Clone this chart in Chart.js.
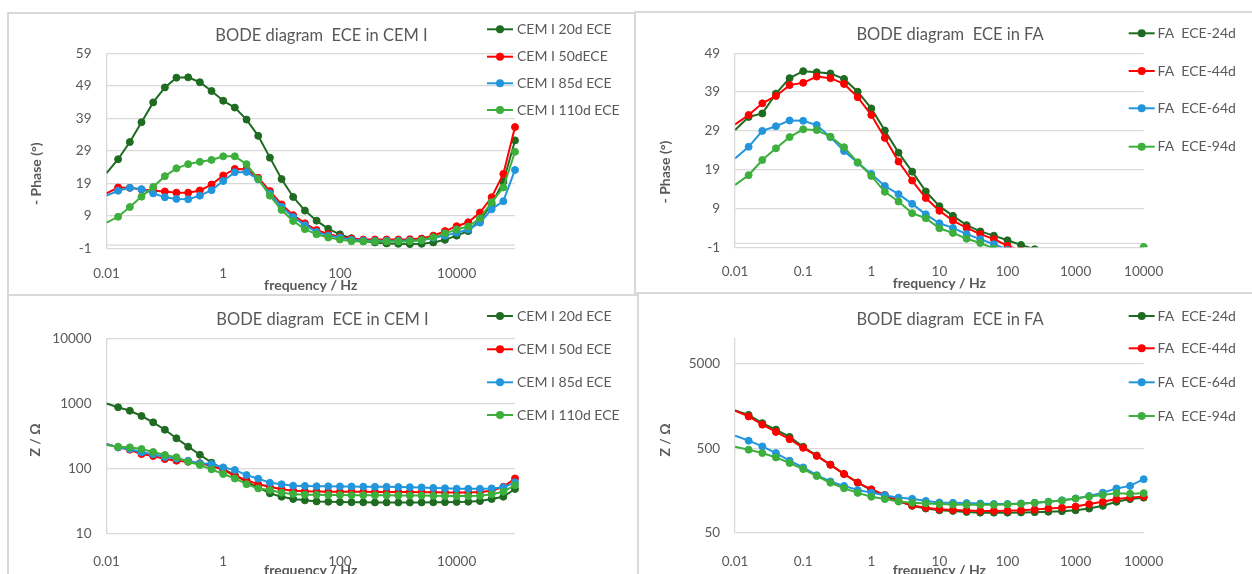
<!DOCTYPE html>
<html lang="en">
<head>
  <meta charset="UTF-8">
  <title>BODE diagram ECE</title>
  <script src="https://cdn.jsdelivr.net/npm/chart.js"></script>
  <style>
    html, body {
      margin: 0;
      overflow: hidden;
      background: #fff;
    }
    body {
      position: relative;
      width: 1252px;
      height: 574px;
    }
    .panel {
      position: absolute;
      box-sizing: border-box;
      border: 2px solid #d9d9d9;
    }
    canvas {
      position: absolute;
    }
  </style>
</head>
<body>
  <div class="panel" style="left:7px; top:12px; width:629px; height:284px"></div>
  <div class="panel" style="left:634px; top:11px; width:640px; height:283px"></div>
  <div class="panel" style="left:7px; top:294px; width:632px; height:300px"></div>
  <div class="panel" style="left:637px; top:292px; width:640px; height:300px"></div>

  <canvas id="phaseCem" width="627" height="282" style="left:8px; top:13px"></canvas>
  <canvas id="phaseFa" width="626" height="281" style="left:637px; top:12px"></canvas>
  <canvas id="zCem" width="629" height="290" style="left:8px; top:296px"></canvas>
  <canvas id="zFa" width="626" height="290" style="left:637px; top:294px"></canvas>

  <script>
    // measurement frequencies, 5 per decade (Hz)
    const FREQ = [0.01, 0.0158, 0.0251, 0.0398, 0.0631, 0.1, 0.158, 0.251, 0.398, 0.631,
                  1, 1.58, 2.51, 3.98, 6.31, 10, 15.8, 25.1, 39.8, 63.1,
                  100, 158, 251, 398, 631, 1000, 1580, 2510, 3980, 6310,
                  10000, 15800, 25100, 39800, 63100, 100000];

    // - phase (deg), CEM I
    const PH_CEM_20 = [22.1, 26.4, 31.7, 37.8, 43.9, 48.5, 51.5, 51.6, 50.1, 47.4, 44.4, 42.3, 38.6, 33.6,
                       26.9, 20.3, 14.8, 10.6, 7.5, 5.0, 3.3, 2.1, 1.2, 0.8, 0.5, 0.4, 0.3, 0.4,
                       0.8, 1.6, 2.9, 4.3, 7.7, 12.6, 19.5, 32.2];
    const PH_CEM_50 = [15.9, 17.7, 17.6, 17.1, 16.7, 16.5, 16.1, 16.1, 16.8, 18.6, 21.4, 23.4, 23.3, 20.7,
                       16.6, 12.5, 9.2, 6.7, 4.6, 3.4, 2.5, 2.0, 1.7, 1.7, 1.7, 1.7, 1.8, 2.0,
                       2.9, 4.3, 5.8, 7.0, 10.0, 14.7, 21.9, 36.3];
    const PH_CEM_85 = [15.2, 16.7, 17.6, 17.2, 15.9, 14.7, 14.2, 14.1, 15.2, 16.9, 19.7, 22.4, 22.5, 20.2,
                       15.9, 11.8, 8.6, 6.1, 4.0, 2.9, 2.3, 1.6, 1.4, 1.3, 1.3, 1.3, 1.4, 1.5,
                       2.2, 2.9, 3.8, 4.8, 6.9, 11.0, 13.5, 23.1];
    const PH_CEM_110 = [6.9, 8.7, 11.7, 14.9, 17.9, 21.2, 23.6, 24.9, 25.6, 26.2, 27.3, 27.3, 24.9, 20.3,
                        15.2, 10.8, 7.4, 4.9, 3.3, 2.3, 1.7, 1.2, 1.1, 1.1, 1.1, 1.1, 1.2, 1.5,
                        2.4, 3.6, 4.8, 5.7, 8.2, 13.2, 17.7, 28.7];

    // - phase (deg), FA (nothing drawn below -1)
    const PH_FA_24 = [29.2, 32.6, 33.5, 38.6, 42.6, 44.4, 44.1, 43.8, 42.4, 39.1, 34.8, 29.1, 23.4, 18.5,
                      13.4, 9.6, 7.1, 4.7, 3.1, 2.0, 0.8, -0.4, -1.5, null, null, null, null, null, null, null, null];
    const PH_FA_44 = [30.7, 33.1, 36.1, 38.0, 40.8, 41.4, 43.0, 42.6, 41.1, 37.7, 33.1, 27.2, 21.1, 16.2,
                      11.7, 8.4, 5.9, 4.0, 2.4, 1.1, -0.6, -1.9, null, null, null, null, null, null, null, null, null];
    const PH_FA_64 = [21.9, 24.9, 29.0, 30.2, 31.7, 31.6, 30.5, 27.4, 23.8, 20.8, 17.9, 14.8, 12.7, 10.2,
                      7.5, 5.2, 4.0, 2.4, 1.1, -0.2, -1.6, null, null, null, null, null, null, null, null, null, null];
    const PH_FA_94 = [15.1, 17.6, 21.5, 24.5, 27.4, 29.4, 29.2, 27.5, 24.8, 20.9, 17.4, 13.3, 10.8, 7.8,
                      6.5, 3.9, 2.7, 1.2, 0.1, -1.3, null, null, null, null, null, null, null, null, null, null, -0.9];

    // |Z| (ohm), CEM I
    const Z_CEM_20 = [1000, 875, 776, 644, 515, 397, 293, 218, 164, 124, 100, 80, 63, 52,
                      42, 37.3, 34.4, 32.8, 31.6, 31.2, 30.9, 30.7, 30.6, 30.5, 30.5, 30.4, 30.4, 30.5,
                      30.6, 30.8, 31.0, 31.2, 32.0, 34.4, 37.3, 49];
    const Z_CEM_50 = [240, 213, 196, 168, 157, 141, 133, 128, 122, 110, 96, 78, 67, 58,
                      53, 48.4, 46.1, 45.1, 44.8, 44.6, 44.5, 44.4, 44.3, 44.2, 44.1, 44.0, 43.9, 43.8,
                      43.6, 43.4, 43.2, 43.1, 44, 46, 53, 71];
    const Z_CEM_85 = [240, 213, 201, 179, 167, 151, 143, 133, 121, 118, 105, 96, 80, 70.5,
                      61, 57.8, 55, 54.5, 54, 53.8, 53.6, 53.4, 53.2, 53, 52.8, 52.5, 52.2, 51.8,
                      50.9, 50.2, 49.6, 49.3, 49.3, 50, 52, 62];
    const Z_CEM_110 = [231, 218, 213, 201, 181, 163, 150, 128, 114, 98, 83, 71, 58, 50,
                       47.2, 43, 41, 40, 39.8, 39.6, 39.5, 39.4, 39.3, 39.2, 39.1, 39.0, 38.9, 38.8,
                       38.6, 38.4, 38.2, 38.1, 38.5, 40.6, 44.5, 56];

    // |Z| (ohm), FA
    const Z_FA_24 = [1400, 1240, 990, 830, 680, 520, 410, 320, 248, 196, 160, 138, 118, 104,
                     96.5, 92, 90.6, 88, 86.4, 86.4, 86.4, 86.8, 87.5, 88.5, 90, 92, 96.5, 104,
                     116, 125, 130];
    const Z_FA_44 = [1390, 1190, 950, 780, 640, 505, 405, 318, 247, 196, 163, 140, 119, 105,
                     99, 95, 93, 91.5, 90.6, 90.6, 91, 92, 94, 97, 99, 102, 109, 116,
                     125, 130, 134];
    const Z_FA_64 = [703, 614, 525, 438, 356, 296, 240, 202, 179, 160, 149, 139, 130, 126,
                     119, 114, 113, 112, 111, 109.5, 109.5, 111, 113, 116, 121, 127, 136, 149,
                     167, 179, 215];
    const Z_FA_94 = [521, 480, 438, 389, 334, 283, 234, 195, 168, 148, 133, 125, 117, 113,
                     111, 109, 107.5, 107, 107, 107, 108, 110, 113, 116, 120, 127, 134, 140,
                     147, 145, 147];

    const CEM_LABELS = ['CEM I 20d ECE', 'CEM I 50dECE', 'CEM I 85d ECE', 'CEM I 110d ECE'];
    const CEM_Z_LABELS = ['CEM I 20d ECE', 'CEM I 50d ECE', 'CEM I 85d ECE', 'CEM I 110d ECE'];
    const FA_LABELS = ['FA  ECE-24d', 'FA  ECE-44d', 'FA  ECE-64d', 'FA  ECE-94d'];

    const X_TICKS_CEM = [0.01, 1, 100, 10000];
    const X_TICKS_FA = [0.01, 0.1, 1, 10, 100, 1000, 10000];
    const PH_TICKS_CEM = [-1, 9, 19, 29, 39, 49, 59];
    const PH_TICKS_FA = [-1, 9, 19, 29, 39, 49];
    const Z_TICKS_CEM = [10, 100, 1000, 10000];
    const Z_TICKS_FA = [50, 500, 5000];

    const COLORS = ['#1e6b21', '#ff0000', '#2196dc', '#3daf3d'];
    const TEXT = '#595959';
    const GRID = '#d9d9d9';

    Chart.defaults.font.family = 'Lato';

    // title, rotated y title, side legend and the x axis line at 0
    const decor = {
      id: 'decor',
      beforeDatasetsDraw(chart, args, o) {
        if (!o.zeroLine) return;
        const ctx = chart.ctx, a = chart.chartArea;
        const y = chart.scales.y.getPixelForValue(0);
        ctx.save();
        ctx.strokeStyle = GRID;
        ctx.lineWidth = 1.3;
        ctx.beginPath();
        ctx.moveTo(a.left, y);
        ctx.lineTo(a.right, y);
        ctx.stroke();
        ctx.restore();
      },
      afterDraw(chart, args, o) {
        const ctx = chart.ctx;
        ctx.save();
        ctx.fillStyle = TEXT;
        ctx.textAlign = 'center';
        ctx.textBaseline = 'middle';
        ctx.font = '16.5px Lato';
        ctx.fillText(o.title, chart.width / 2, o.titleY);

        ctx.save();
        ctx.translate(o.yTitleAt[0], o.yTitleAt[1]);
        ctx.rotate(-Math.PI / 2);
        ctx.font = 'bold 14px Lato';
        ctx.fillText(o.yTitle, 0, 0);
        ctx.restore();

        ctx.font = '14px Lato';
        ctx.textAlign = 'left';
        chart.data.datasets.forEach((ds, i) => {
          const y = o.rows[i];
          ctx.strokeStyle = ds.borderColor;
          ctx.lineWidth = 2;
          ctx.beginPath();
          ctx.moveTo(o.markX - 13, y);
          ctx.lineTo(o.markX + 13, y);
          ctx.stroke();
          ctx.fillStyle = ds.borderColor;
          ctx.beginPath();
          ctx.arc(o.markX, y, 4, 0, Math.PI * 2);
          ctx.fill();
          ctx.fillStyle = TEXT;
          ctx.fillText(ds.label, o.textX, y);
        });
        ctx.restore();
      }
    };

    function bodeChart(id, cfg) {
      const canvas = document.getElementById(id);
      const W = canvas.width, H = canvas.height;
      const [left, top, right, bottom] = cfg.plot;

      const datasets = cfg.series.map((vals, i) => ({
        label: cfg.labels[i],
        data: vals.map((v, k) => ({ x: FREQ[k], y: v })),
        borderColor: COLORS[i],
        backgroundColor: COLORS[i],
        borderWidth: 2,
        pointRadius: c => c.dataIndex === 0 ? 0 : 3.5,
        pointBorderWidth: 1,
        tension: 0,
        order: 3 - i,
        clip: cfg.clip
      }));

      return new Chart(canvas, {
        type: 'line',
        data: { datasets: datasets },
        options: {
          responsive: false,
          animation: false,
          events: [],
          layout: { padding: { left: 0, top: top, right: W - right, bottom: 0 } },
          plugins: {
            legend: { display: false },
            tooltip: { enabled: false },
            decor: cfg.decor
          },
          scales: {
            x: {
              type: 'logarithmic',
              min: cfg.xTicks[0],
              max: cfg.xMax,
              afterBuildTicks: s => { s.ticks = cfg.xTicks.map(v => ({ value: v })); },
              afterFit: s => { s.height = H - bottom; },
              grid: { display: false },
              border: { display: false },
              ticks: {
                color: TEXT,
                font: { size: 13.5 },
                padding: cfg.xPad,
                maxRotation: 0,
                autoSkip: false,
                callback: v => String(v)
              },
              title: {
                display: true,
                text: 'frequency / Hz',
                color: TEXT,
                font: { size: 14, weight: 'bold' },
                padding: { top: 0, bottom: cfg.xTitlePad }
              }
            },
            y: {
              type: cfg.yType,
              min: cfg.yTicks[0],
              max: cfg.yMax,
              afterBuildTicks: s => { s.ticks = cfg.yTicks.map(v => ({ value: v })); },
              afterFit: s => { s.width = left; },
              grid: { color: GRID, lineWidth: 1.3, drawTicks: false },
              border: { display: true, color: GRID, width: 1.3 },
              ticks: {
                color: TEXT,
                font: { size: 13.5 },
                padding: 15,
                callback: v => String(v)
              }
            }
          }
        },
        plugins: [decor]
      });
    }

    bodeChart('phaseCem', {
      series: [PH_CEM_20, PH_CEM_50, PH_CEM_85, PH_CEM_110],
      labels: CEM_LABELS,
      plot: [98.5, 40.3, 507, 235.3],
      xTicks: X_TICKS_CEM, xMax: 100000,
      yType: 'linear', yTicks: PH_TICKS_CEM, yMax: 59,
      xPad: 9.3, xTitlePad: 1.6,
      clip: { left: 0, top: false, right: false, bottom: 0 },
      decor: {
        title: 'BODE diagram  ECE in CEM I', titleY: 23,
        yTitle: '- Phase (°)', yTitleAt: [28, 160.7],
        markX: 492, textX: 509, rows: [16.3, 43.7, 70.3, 97],
        zeroLine: true
      }
    });

    bodeChart('phaseFa', {
      series: [PH_FA_24, PH_FA_44, PH_FA_64, PH_FA_94],
      labels: FA_LABELS,
      plot: [98.1, 41.3, 506.7, 235.3],
      xTicks: X_TICKS_FA, xMax: 10000,
      yType: 'linear', yTicks: PH_TICKS_FA, yMax: 49,
      xPad: 8.6, xTitlePad: 1.3,
      clip: { left: 0, top: false, right: false, bottom: 0 },
      decor: {
        title: 'BODE diagram  ECE in FA', titleY: 22.3,
        yTitle: '- Phase (°)', yTitleAt: [28.7, 160],
        markX: 504.7, textX: 520.6, rows: [21.3, 59, 96.3, 134.7],
        zeroLine: true
      }
    });

    bodeChart('zCem', {
      series: [Z_CEM_20, Z_CEM_50, Z_CEM_85, Z_CEM_110],
      labels: CEM_Z_LABELS,
      plot: [98.5, 42.3, 507, 238],
      xTicks: X_TICKS_CEM, xMax: 100000,
      yType: 'logarithmic', yTicks: Z_TICKS_CEM, yMax: 10000,
      xPad: 11.2, xTitlePad: 7.6,
      clip: { left: 0, top: false, right: false, bottom: false },
      decor: {
        title: 'BODE diagram  ECE in CEM I', titleY: 24,
        yTitle: 'Z / Ω', yTitleAt: [27.4, 144],
        markX: 492, textX: 509, rows: [20, 53.3, 86.3, 119],
        zeroLine: false
      }
    });

    bodeChart('zFa', {
      series: [Z_FA_24, Z_FA_44, Z_FA_64, Z_FA_94],
      labels: FA_LABELS,
      plot: [98.1, 44.3, 506.7, 238.7],
      xTicks: X_TICKS_FA, xMax: 10000,
      yType: 'logarithmic', yTicks: Z_TICKS_FA, yMax: 10000,
      xPad: 12.5, xTitlePad: 5.6,
      clip: { left: 0, top: false, right: false, bottom: false },
      decor: {
        title: 'BODE diagram  ECE in FA', titleY: 25.3,
        yTitle: 'Z / Ω', yTitleAt: [28.7, 146],
        markX: 504.7, textX: 520.6, rows: [22, 54.3, 88.3, 122],
        zeroLine: false
      }
    });
  </script>
</body>
</html>
